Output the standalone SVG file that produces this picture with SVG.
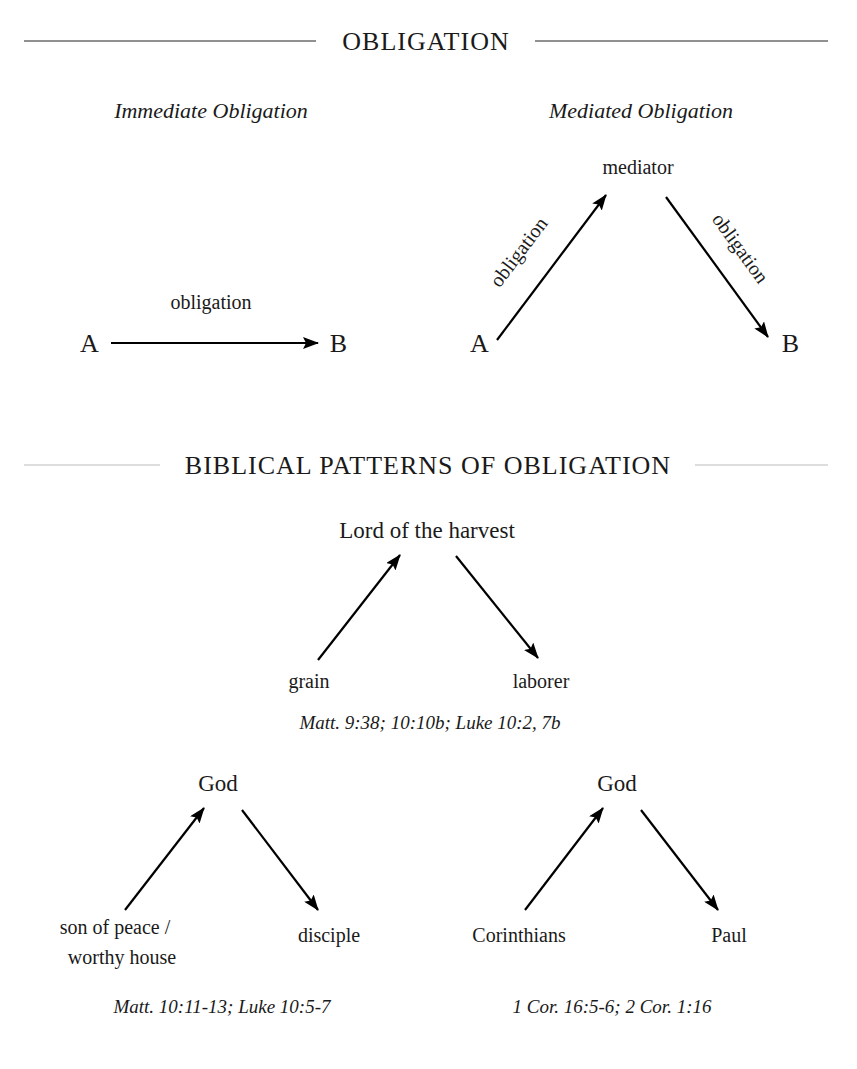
<svg xmlns="http://www.w3.org/2000/svg" width="857" height="1069" viewBox="0 0 857 1069">
<style>
text{font-family:"Liberation Serif","DejaVu Serif",serif;fill:#1a1a1a}
.h{font-size:26px;letter-spacing:1px}
.n{font-size:23px}
.s{font-size:20px}
.i{font-size:22px;font-style:italic}
.r{font-size:19px;font-style:italic}
.e{stroke:#000;stroke-width:2.2;fill:none;marker-end:url(#ah)}
</style>
<defs><marker id="ah" viewBox="0 0 16 12" refX="15" refY="6" markerWidth="16" markerHeight="12" orient="auto" markerUnits="userSpaceOnUse"><path d="M0,0L16,6L0,12L3,6z" fill="#000"/></marker></defs>
<rect width="857" height="1069" fill="#fff"/>
<g id="headers">
<line x1="24" y1="41" x2="316" y2="41" stroke="#222" stroke-width="1.2"/>
<line x1="535" y1="41" x2="828" y2="41" stroke="#222" stroke-width="1.2"/>
<text class="h" x="426" y="50" text-anchor="middle">OBLIGATION</text>
<line x1="24" y1="465" x2="160" y2="465" stroke="#bbb" stroke-width="1.2"/>
<line x1="695" y1="465" x2="828" y2="465" stroke="#bbb" stroke-width="1.2"/>
<text class="h" x="428" y="474" text-anchor="middle">BIBLICAL PATTERNS OF OBLIGATION</text>
<text class="i" x="211" y="118" text-anchor="middle">Immediate Obligation</text>
<text class="i" x="641" y="118" text-anchor="middle">Mediated Obligation</text>
</g>
<g id="connectors">
<line class="e" x1="111" y1="343" x2="318" y2="343"/>
<line class="e" x1="497" y1="340" x2="606" y2="195"/>
<line class="e" x1="666" y1="197" x2="768" y2="337"/>
<line class="e" x1="318" y1="660" x2="400" y2="555"/>
<line class="e" x1="456" y1="556" x2="538" y2="658"/>
<line class="e" x1="125" y1="910" x2="204" y2="808"/>
<line class="e" x1="242" y1="810" x2="318" y2="910"/>
<line class="e" x1="525" y1="910" x2="603" y2="808"/>
<line class="e" x1="641" y1="810" x2="718" y2="910"/>
</g>
<g id="labels">
<text class="s" x="211" y="309" text-anchor="middle">obligation</text>
<text class="s" transform="translate(524,256) rotate(-53)" text-anchor="middle">obligation</text>
<text class="s" transform="translate(735,252) rotate(54)" text-anchor="middle">obligation</text>
</g>
<g id="nA1"><text class="h" x="90" y="352" text-anchor="middle">A</text></g>
<g id="nB1"><text class="h" x="339" y="352" text-anchor="middle">B</text></g>
<g id="nA2"><text class="h" x="480" y="352" text-anchor="middle">A</text></g>
<g id="nB2"><text class="h" x="791" y="352" text-anchor="middle">B</text></g>
<g id="nMed"><text class="s" x="638" y="174" text-anchor="middle">mediator</text></g>
<g id="nLord"><text class="n" x="427" y="538" text-anchor="middle">Lord of the harvest</text></g>
<g id="nGrain"><text class="s" x="309" y="688" text-anchor="middle">grain</text></g>
<g id="nLaborer"><text class="s" x="541" y="688" text-anchor="middle">laborer</text></g>
<g id="ref1"><text class="r" x="430" y="729" text-anchor="middle">Matt. 9:38; 10:10b; Luke 10:2, 7b</text></g>
<g id="nGod1"><text class="n" x="218" y="791" text-anchor="middle">God</text></g>
<g id="nSon"><text class="s" x="115" y="934" text-anchor="middle">son of peace /</text><text class="s" x="122" y="964" text-anchor="middle">worthy house</text></g>
<g id="nDisciple"><text class="s" x="329" y="942" text-anchor="middle">disciple</text></g>
<g id="ref2"><text class="r" x="222" y="1013" text-anchor="middle">Matt. 10:11-13; Luke 10:5-7</text></g>
<g id="nGod2"><text class="n" x="617" y="791" text-anchor="middle">God</text></g>
<g id="nCor"><text class="s" x="519" y="942" text-anchor="middle">Corinthians</text></g>
<g id="nPaul"><text class="s" x="729" y="942" text-anchor="middle">Paul</text></g>
<g id="ref3"><text class="r" x="612" y="1013" text-anchor="middle">1 Cor. 16:5-6; 2 Cor. 1:16</text></g>
</svg>
